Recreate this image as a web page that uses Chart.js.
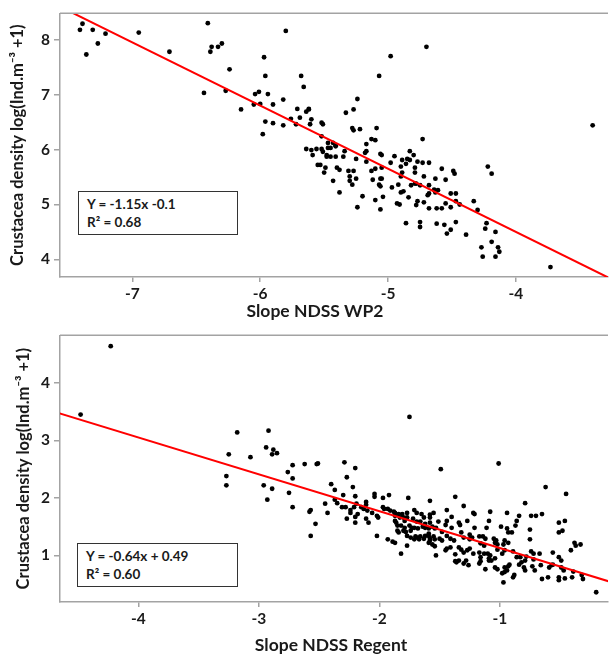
<!DOCTYPE html>
<html><head><meta charset="utf-8">
<script src="https://cdn.jsdelivr.net/npm/chart.js@4.4.1/dist/chart.umd.min.js"></script>
<style>
html,body{margin:0;padding:0;background:#fff;}
#wrap{position:relative;width:612px;height:659px;overflow:hidden;background:#fff;}
canvas{position:absolute;left:0;}
.box{position:absolute;box-sizing:border-box;border:1.5px solid #333;background:#fff;
 font-family:Lato,"Open Sans",sans-serif;font-weight:bold;font-size:13.5px;color:#1a1a1a;line-height:18px;padding:3px 0 0 8px;z-index:2;}
.xt{position:absolute;width:300px;text-align:center;font-family:Lato,"Open Sans",sans-serif;font-weight:bold;font-size:17.5px;line-height:20px;color:#1a1a1a;z-index:2;white-space:nowrap;}
</style>
</head><body>
<div id="wrap">
<canvas id="c1" width="612" height="322" style="top:0"></canvas>
<canvas id="c2" width="612" height="337" style="top:322px"></canvas>
<div class="box" style="left:78px;top:191px;width:160px;height:44px;">Y = -1.15x -0.1<br>R² = 0.68</div>
<div class="box" style="left:77px;top:543px;width:161px;height:44px;">Y = -0.64x + 0.49<br>R² = 0.60</div>
<div class="xt" id="t1" style="left:165px;top:301px;"></div>
<div class="xt" id="t2" style="left:181px;top:635px;"></div>
</div>
<script>
// ---- Top panel (WP2) ----
const topX = [-7.41,-7.39,-7.36,-7.31,-7.27,-7.21,-6.95,-6.71,-6.44,-6.41,
-6.39,-6.38,-6.33,-6.30,-6.27,-6.24,-6.15,-6.05,-6.04,-6.01,
-6.00,-5.98,-5.97,-5.96,-5.96,-5.94,-5.90,-5.90,-5.82,-5.82,
-5.80,-5.76,-5.72,-5.71,-5.69,-5.68,-5.66,-5.64,-5.62,-5.62,
-5.61,-5.60,-5.52,-5.51,-5.52,-5.47,-5.45,-5.43,-5.41,-5.34,
-5.33,-5.27,-5.24,-5.28,-5.27,-5.22,-5.17,-5.13,-5.10,-5.09,
-5.07,-4.98,-4.83,-4.73,-4.70,-3.40,-5.17,-5.41,-5.64,-5.60,
-5.56,-5.52,-5.51,-5.47,-5.59,-5.48,-5.48,-5.45,-5.41,-5.35,
-5.25,-5.18,-5.17,-5.06,-5.05,-4.95,-4.98,-5.55,-5.53,-5.49,
-5.50,-5.40,-5.38,-5.31,-5.27,-5.30,-5.30,-5.28,-5.25,-5.43,
-5.38,-5.13,-5.10,-5.05,-5.12,-5.06,-5.05,-5.07,-5.06,-4.97,
-5.20,-5.04,-5.10,-5.24,-5.06,-4.89,-4.85,-4.83,-4.80,-4.90,
-4.86,-4.79,-4.79,-4.77,-4.73,-4.68,-4.89,-4.90,-4.92,-4.82,
-4.79,-4.78,-4.75,-4.72,-4.68,-4.63,-4.58,-4.55,-4.49,-4.48,
-4.22,-4.19,-4.90,-4.88,-4.84,-4.69,-4.68,-4.64,-4.61,-4.63,
-4.93,-4.91,-4.77,-4.78,-4.72,-4.68,-4.62,-4.58,-4.55,-4.51,
-4.47,-4.47,-4.44,-4.51,-4.33,-4.30,-4.86,-4.75,-4.75,-4.62,
-4.56,-4.51,-4.54,-4.47,-4.39,-4.23,-4.24,-4.16,-4.19,-4.27,
-4.14,-4.13,-4.26,-4.16,-3.73];
const topY = [8.18,8.29,7.73,8.18,7.93,8.11,8.13,7.78,7.03,8.30,
7.78,7.87,7.87,7.93,7.07,7.46,6.73,6.82,7.01,7.05,
6.83,6.28,7.68,7.34,6.51,7.01,6.82,6.48,6.91,6.44,
8.16,6.56,6.46,6.74,6.58,7.34,7.14,6.69,6.73,6.74,
6.46,6.55,6.49,6.46,6.24,6.12,6.03,6.12,6.08,5.97,
6.67,6.73,6.92,6.39,6.35,6.37,6.10,6.19,6.17,6.39,
7.34,7.70,5.97,6.19,7.87,6.44,5.97,6.06,6.01,5.99,
6.01,6.01,5.96,6.03,5.90,5.90,5.87,5.87,5.87,5.87,
5.83,5.94,5.78,5.92,5.90,5.88,5.76,5.72,5.72,5.67,
5.58,5.67,5.63,5.61,5.61,5.51,5.43,5.36,5.47,5.43,
5.22,5.61,5.65,5.67,5.45,5.47,5.47,5.36,5.33,5.31,
5.15,5.14,5.08,4.95,4.91,5.81,5.83,5.81,5.90,5.69,
5.74,5.67,5.58,5.78,5.76,5.76,5.58,5.51,5.36,5.35,
5.38,5.38,5.35,5.51,5.35,5.47,5.65,5.45,5.61,5.56,
5.69,5.56,5.22,5.24,5.13,5.17,5.20,5.27,5.26,5.22,
5.02,5.00,5.06,4.99,5.04,4.93,4.93,4.93,5.02,5.20,
5.20,5.06,5.00,4.95,5.06,4.90,4.66,4.68,4.59,4.65,
4.63,4.54,4.47,4.68,4.45,4.66,4.56,4.50,4.32,4.22,
4.22,4.14,4.05,4.05,3.86];
const topFitX = [-7.6, -3.2];
const topFitY = [8.64, 3.58];
const topXTicks = [-7, -6, -5, -4];
const topYTicks = [4, 5, 6, 7, 8];
const topXRange = [-7.566, -3.28];
const topYRange = [3.68, 8.48];
const topXTitle = 'Slope NDSS WP2';

// ---- Bottom panel (Regent) ----
const botX = [-4.48,-4.23,-3.25,-3.18,-3.07,-2.92,-2.94,-2.88,-2.89,-2.85,
-2.72,-2.62,-2.52,-2.51,-1.75,-2.29,-2.20,-1.49,-1.01,-3.27,
-3.27,-2.96,-2.89,-2.93,-2.76,-2.72,-2.75,-2.72,-2.58,-2.57,
-2.53,-2.57,-2.40,-2.37,-2.27,-2.22,-2.20,-2.30,-2.37,-2.35,
-2.45,-2.43,-2.31,-2.28,-2.24,-2.24,-2.21,-2.19,-2.27,-2.20,
-2.20,-2.15,-2.18,-2.11,-2.11,-2.13,-2.10,-2.06,-2.11,-2.09,
-2.04,-2.04,-1.97,-1.92,-1.97,-1.96,-2.02,-2.01,-1.93,-1.91,
-1.88,-1.87,-1.87,-1.84,-1.83,-1.87,-1.86,-1.85,-1.81,-1.80,
-1.79,-1.76,-1.77,-1.77,-1.71,-1.69,-1.72,-1.69,-1.65,-1.63,
-1.66,-1.62,-1.58,-1.55,-1.58,-1.82,-1.80,-1.79,-1.78,-1.85,
-1.84,-1.75,-1.74,-1.73,-1.71,-1.68,-1.64,-1.62,-1.59,-1.58,
-1.56,-1.54,-1.53,-1.77,-1.74,-1.71,-1.70,-1.68,-1.67,-1.66,
-1.63,-1.62,-1.59,-1.59,-1.58,-1.55,-1.54,-2.02,-1.93,-1.89,
-1.87,-1.77,-1.82,-1.53,-1.59,-0.62,-0.45,-0.79,-1.37,-1.30,
-1.44,-1.22,-1.21,-1.08,-0.94,-0.65,-0.74,-0.70,-1.40,-1.58,
-1.44,-1.45,-1.34,-1.33,-1.27,-1.09,-0.84,-0.86,-0.87,-0.51,
-0.46,-1.51,-1.40,-1.21,-1.11,-0.99,-0.94,-0.93,-0.90,-0.75,
-0.75,-0.51,-0.48,-1.25,-1.23,-1.48,-1.44,-1.32,-1.30,-1.50,
-1.48,-1.58,-1.56,-1.41,-1.38,-1.25,-1.17,-1.14,-1.12,-1.05,
-1.03,-1.04,-1.02,-0.96,-0.93,-0.97,-1.16,-1.13,-1.54,-1.45,
-1.44,-1.41,-1.34,-1.32,-1.30,-1.27,-1.25,-1.22,-1.17,-1.16,
-1.13,-1.10,-1.08,-1.09,-1.07,-1.04,-0.89,-0.96,-1.02,-0.98,
-0.74,-0.72,-0.67,-0.86,-0.83,-0.79,-0.78,-0.72,-0.56,-0.51,
-0.49,-0.41,-0.38,-0.37,-0.33,-1.37,-1.36,-1.30,-1.28,-1.34,
-1.16,-1.17,-1.09,-1.26,-1.12,-1.04,-1.02,-0.96,-0.93,-0.92,
-0.94,-0.84,-0.82,-0.80,-0.79,-0.73,-0.71,-0.66,-0.59,-0.57,
-0.56,-0.49,-0.47,-0.39,-0.32,-0.98,-0.96,-0.89,-0.88,-0.97,
-0.65,-0.60,-0.51,-0.51,-0.46,-0.40,-0.31,-0.20,-1.37];
const botY = [3.45,4.64,2.76,3.14,2.71,3.17,2.88,2.84,2.76,2.78,
2.57,2.59,2.59,2.60,3.41,2.62,2.52,2.50,2.60,2.38,
2.22,2.22,2.16,1.97,2.45,2.34,2.09,1.84,1.76,1.79,
1.55,1.34,2.24,2.14,2.36,2.19,2.03,2.05,1.97,1.91,
1.90,1.74,1.84,1.84,1.79,1.74,1.84,1.90,1.64,1.67,
1.57,1.84,1.72,1.93,1.88,1.81,1.78,1.74,1.64,1.57,
2.07,2.02,2.00,2.05,1.84,1.81,1.69,1.66,1.81,1.78,
1.76,1.74,1.69,1.72,1.66,1.60,1.57,1.52,1.72,1.66,
1.60,2.00,1.74,1.66,1.79,1.74,1.64,1.59,1.72,1.66,
1.59,1.55,1.95,1.74,1.71,1.52,1.43,1.48,1.41,1.43,
1.40,1.52,1.43,1.48,1.48,1.47,1.50,1.48,1.47,1.57,
1.50,1.47,1.48,1.34,1.31,1.28,1.33,1.31,1.28,1.33,
1.29,1.34,1.38,1.34,1.29,1.33,1.28,1.34,1.28,1.24,
1.22,1.17,1.03,1.00,1.22,2.19,2.07,1.91,2.02,1.86,
1.79,1.74,1.72,1.76,1.74,1.72,1.69,1.69,1.67,1.66,
1.60,1.53,1.57,1.53,1.60,1.60,1.69,1.60,1.52,1.57,
1.60,1.59,1.48,1.48,1.48,1.50,1.47,1.40,1.40,1.45,
1.28,1.40,1.43,1.36,1.31,1.41,1.34,1.40,1.31,1.29,
1.26,1.26,1.19,1.29,1.26,1.28,1.33,1.33,1.29,1.29,
1.26,1.22,1.19,1.26,1.22,1.19,1.21,1.17,1.16,1.09,
1.12,1.14,1.14,1.10,1.05,1.09,1.12,1.03,1.05,0.97,
1.03,1.03,1.00,0.95,0.91,0.95,1.07,1.09,1.10,1.03,
1.07,1.03,1.03,0.97,0.97,0.91,0.98,0.93,1.05,0.97,
0.91,1.09,1.22,1.17,1.19,1.02,0.88,0.86,0.91,0.91,
0.90,0.86,0.91,0.83,0.76,0.79,0.76,0.79,0.81,0.84,
0.74,0.84,0.88,0.79,0.74,0.81,0.74,0.83,0.79,0.83,
0.84,0.79,0.74,0.72,0.66,0.69,0.71,0.62,0.66,0.53,
0.59,0.62,0.62,0.57,0.60,0.62,0.59,0.36,0.90];
const botFitX = [-4.7, -0.05];
const botFitY = [3.50, 0.52];
const botXTicks = [-4, -3, -2, -1];
const botYTicks = [1, 2, 3, 4];
const botXRange = [-4.651, -0.102];
const botYRange = [0.19, 4.83];
const botXTitle = 'Slope NDSS Regent';

const yTitle = 'Crustacea density log(Ind.m\u207B\u00B3 +1)';
const FONT = 'Lato, "Open Sans", sans-serif';
const AXIS = '#a3a3a3';
const TXT = '#1a1a1a';

document.getElementById('t1').textContent = topXTitle;
document.getElementById('t2').textContent = botXTitle;

const frameTop = {
  id: 'frameTop',
  beforeDraw(c) { const ctx = c.ctx; ctx.save(); ctx.fillStyle = '#fff'; ctx.fillRect(0, 0, c.width, c.height); ctx.restore(); },
  afterDraw(c) {
    const {ctx, chartArea: a} = c;
    ctx.save(); ctx.strokeStyle = AXIS; ctx.lineWidth = 1.5;
    ctx.beginPath(); ctx.moveTo(a.left, a.top); ctx.lineTo(a.right, a.top); ctx.stroke(); ctx.restore();
  }
};

function makeChart(id, xs, ys, fx, fy, xr, yr, xt, yt, cfg) {
  const pts = xs.map((x, i) => ({x: x, y: ys[i]}));
  const fit = fx.map((x, i) => ({x: x, y: fy[i]}));
  return new Chart(document.getElementById(id), {
    type: 'scatter',
    data: { datasets: [
      { data: fit, showLine: true, borderColor: '#ff0000', borderWidth: 2, pointRadius: 0, fill: false, order: 0, clip: 0 },
      { data: pts, backgroundColor: '#000', borderColor: '#000', borderWidth: 0, pointRadius: 2.4, order: 1 }
    ]},
    options: {
      responsive: false, animation: false, devicePixelRatio: 1,
      layout: { padding: { top: cfg.padTop, left: 0, right: 0, bottom: 0 } },
      plugins: { legend: { display: false }, tooltip: { enabled: false } },
      scales: {
        x: {
          type: 'linear', min: xr[0], max: xr[1],
          afterBuildTicks: s => { s.ticks = xt.map(v => ({value: v})); },
          afterFit: s => { s.height = cfg.xH; },
          grid: { display: true, drawOnChartArea: false, drawTicks: true, tickLength: 5, color: AXIS, lineWidth: 1.5 },
          border: { display: true, color: AXIS, width: 1.5 },
          ticks: { color: TXT, font: { family: FONT, weight: 'bold', size: 15.5 }, padding: 3, maxRotation: 0, autoSkip: false },
          title: { display: false }
        },
        y: {
          type: 'linear', min: yr[0], max: yr[1],
          afterBuildTicks: s => { s.ticks = yt.map(v => ({value: v})); },
          afterFit: s => { s.width = 60; },
          grid: { display: true, drawOnChartArea: false, drawTicks: true, tickLength: 6, color: AXIS, lineWidth: 1.5 },
          border: { display: true, color: AXIS, width: 1.5 },
          ticks: { color: TXT, font: { family: FONT, weight: 'bold', size: 15.5 }, padding: 4 },
          title: { display: true, text: yTitle, color: TXT, font: { family: FONT, weight: 'bold', size: 16.5 }, padding: { top: cfg.yTitlePad, bottom: 0 } }
        }
      }
    },
    plugins: [frameTop]
  });
}

makeChart('c1', topX, topY, topFitX, topFitY, topXRange, topYRange, topXTicks, topYTicks,
  { padTop: 9, xH: 45, yTitlePad: 8 });
makeChart('c2', botX, botY, botFitX, botFitY, botXRange, botYRange, botXTicks, botYTicks,
  { padTop: 11, xH: 57, yTitlePad: 14 });
</script>
</body></html>
